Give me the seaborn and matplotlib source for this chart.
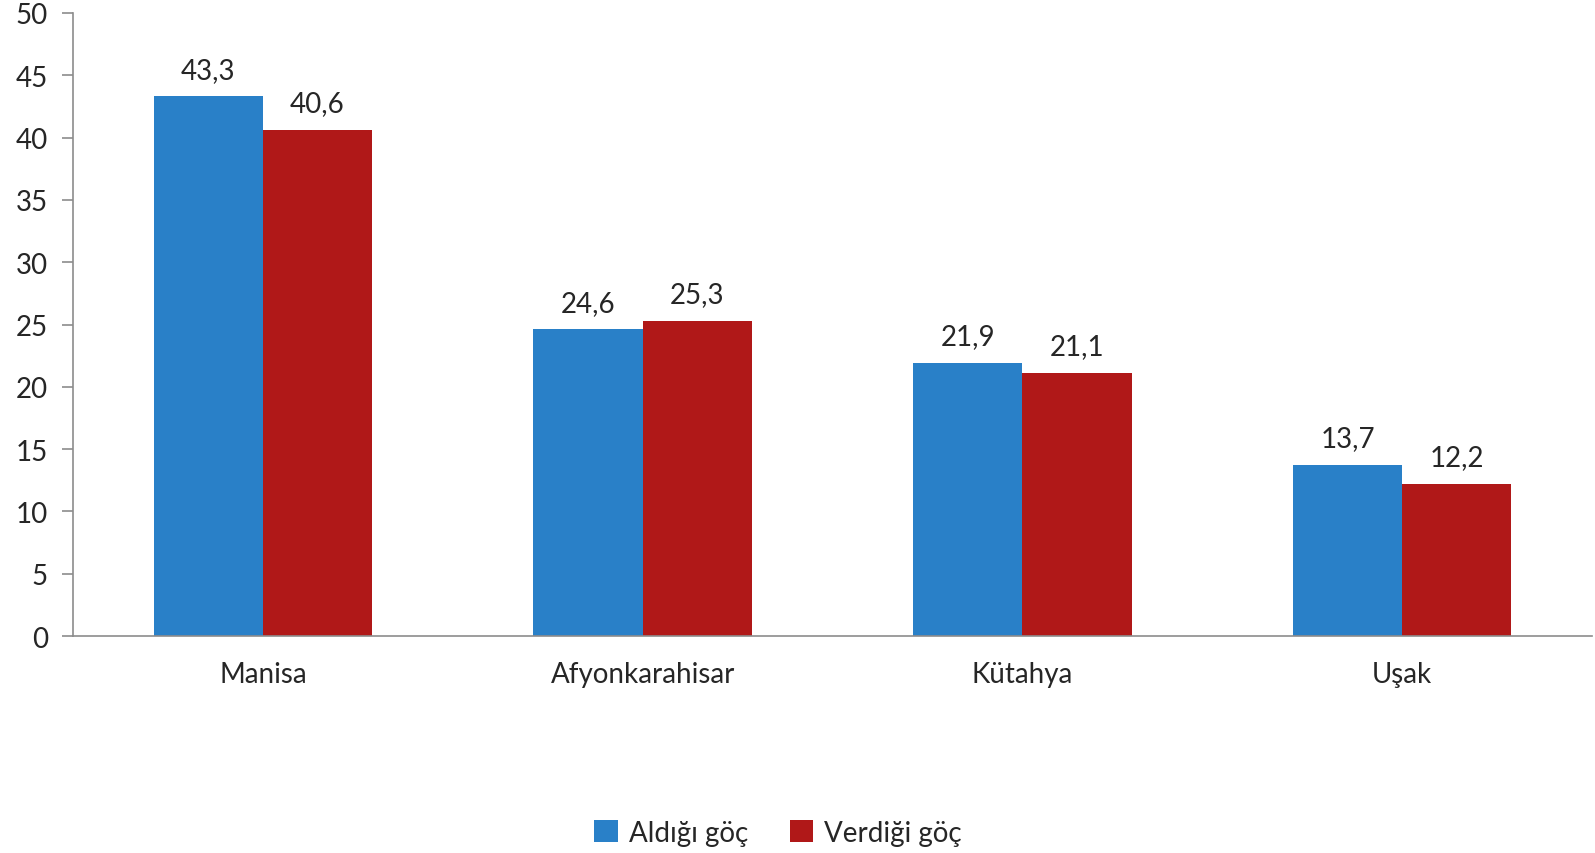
import pandas as pd
import matplotlib.pyplot as plt
import seaborn as sns

# data
provinces = ["Manisa", "Afyonkarahisar", "Kütahya", "Uşak"]
aldigi = [43.3, 24.6, 21.9, 13.7]
verdigi = [40.6, 25.3, 21.1, 12.2]
series = ["Aldığı göç", "Verdiği göç"]
colors = ["#2980C8", "#B01818"]

df = pd.DataFrame({
    "il": provinces * 2,
    "deger": aldigi + verdigi,
    "tur": [series[0]] * 4 + [series[1]] * 4,
})

sns.set_style("white")
plt.rcParams["font.family"] = ["Lato", "DejaVu Sans"]
fs = 20

fig = plt.figure(figsize=(15.95, 8.54), dpi=100)
ax = fig.add_axes([73 / 1595, 1 - 637 / 854, (1592 - 73) / 1595, (637 - 14) / 854])

sns.barplot(data=df, x="il", y="deger", hue="tur", palette=colors,
            width=0.575, saturation=1, linewidth=0, ax=ax, legend=True)

for cont in ax.containers:
    ax.bar_label(cont, labels=[f"{b.get_height():.1f}".replace(".", ",") for b in cont],
                 padding=10, fontsize=fs)

ax.set_ylim(0, 50)
ax.set_yticks(range(0, 51, 5))
ax.set_xlim(-0.5, len(provinces) - 0.5)
ax.set_xticks([i - 0.5 for i in range(len(provinces) + 1)], minor=True)
ax.tick_params(axis="x", which="major", length=0, pad=18, labelsize=fs)
ax.tick_params(axis="x", which="minor", length=7, width=1.2, color="#8C8C8C", direction="out")
ax.tick_params(axis="y", length=8, width=1.2, color="#8C8C8C", labelsize=fs, pad=10, direction="out", left=True)
ax.set_xlabel("")
ax.set_ylabel("")

for s in ["top", "right"]:
    ax.spines[s].set_visible(False)
for s in ["left", "bottom"]:
    ax.spines[s].set_color("#8C8C8C")
    ax.spines[s].set_linewidth(1.2)

handles, labels = ax.get_legend_handles_labels()
ax.get_legend().remove()
fig.legend(handles, labels, loc="center", bbox_to_anchor=(778 / 1595, 1 - 834 / 854),
           ncol=2, frameon=False, fontsize=fs, handlelength=0.85, handleheight=0.85,
           columnspacing=1.5, handletextpad=0.4)

fig.savefig("out.png", dpi=100)
